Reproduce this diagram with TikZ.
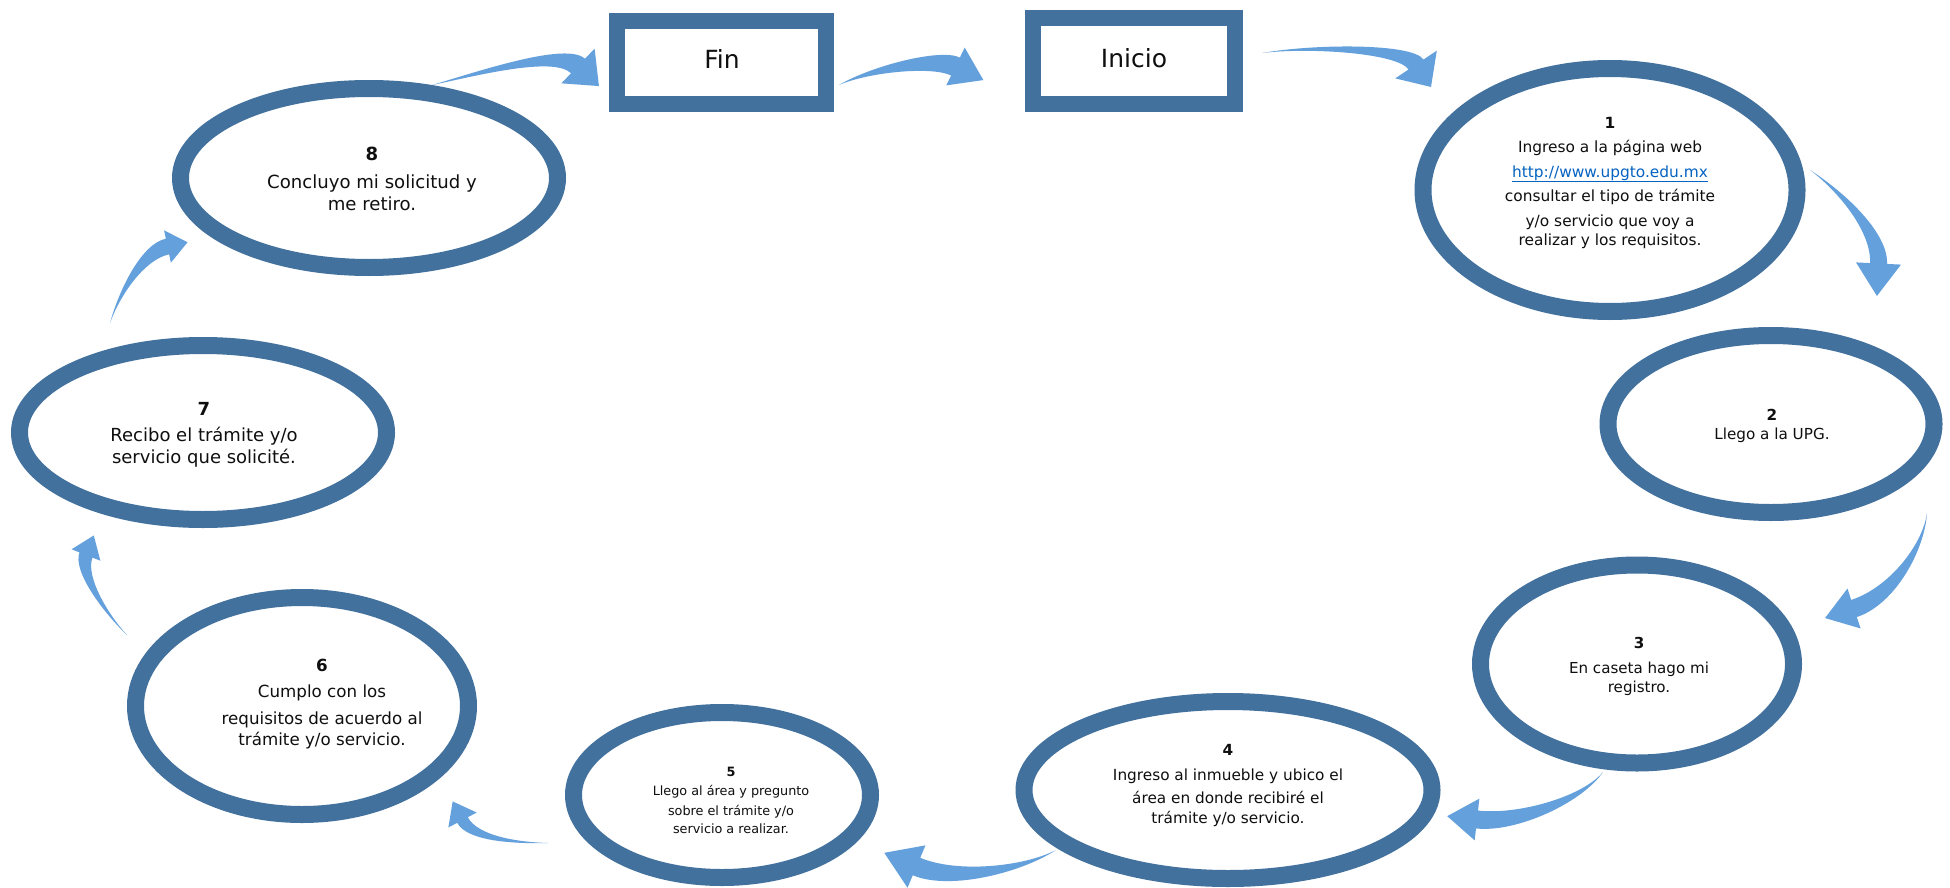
\documentclass[tikz,border=0pt]{standalone}
\usepackage{fontspec}
\setmainfont{DejaVu Sans}
\usetikzlibrary{shapes.geometric,calc}
\definecolor{ringblue}{RGB}{66,113,158}
\definecolor{arrowblue}{RGB}{100,160,220}
\definecolor{linkblue}{RGB}{5,99,193}
\definecolor{txtc}{RGB}{15,15,15}
\tikzset{
  ring/.style={draw=ringblue, line width=17pt, ellipse, inner sep=0pt, fill=white},
  framebox/.style={draw=ringblue, line width=16pt, rectangle, inner sep=0pt, fill=white},
  steptext/.style={align=center, anchor=base, text=txtc, inner sep=0pt},
  arrowfill/.style={fill=arrowblue},
}
% #1 tail, #2 ctrl1, #3 ctrl2, #4 head base centre, #5 body half width, #6 head half width, #7 head length
\newcommand\bentarrow[7]{%
  \fill[arrowfill] let \p1=(#2), \p2=(#3), \p3=(#4), \n1={atan2(\y3-\y2,\x3-\x2)} in
    (#1) .. controls ($(\p1)+({\n1+90}:{0.35*#5pt})$) and ($(\p2)+({\n1+90}:{#5pt})$) .. ($(\p3)+({\n1+90}:{#5pt})$)
    -- ($(\p3)+({\n1+90}:{#6pt})$) -- ($(\p3)+(\n1:{#7pt})$) -- ($(\p3)+({\n1-90}:{#6pt})$)
    -- ($(\p3)+({\n1-90}:{#5pt})$)
    .. controls ($(\p2)+({\n1-90}:{#5pt})$) and ($(\p1)+({\n1-90}:{0.35*#5pt})$) .. (#1) -- cycle;
}
\begin{document}
\begin{tikzpicture}[x=1pt,y=-1pt]
\fill[white] (0,0) rectangle (1950,888);
\useasboundingbox (0,0) rectangle (1950,888);

% boxes
\node[framebox, minimum width=209pt, minimum height=83pt] (fin) at (721.5,62.5) {};
\node[framebox, minimum width=202pt, minimum height=86.5pt] (inicio) at (1134,61) {};
\node[steptext, font=\fontsize{25}{30}\selectfont] (fintxt) at (722,69) {Fin};
\node[steptext, font=\fontsize{25}{30}\selectfont] (iniciotxt) at (1134,68) {Inicio};

% ellipses
\node[ring, minimum width=374pt, minimum height=243pt] (e1) at (1610,190) {};
\node[ring, minimum width=326pt, minimum height=177pt] (e2) at (1771,424) {};
\node[ring, minimum width=313pt, minimum height=198pt] (e3) at (1637,664) {};
\node[ring, minimum width=408pt, minimum height=177pt] (e4) at (1228,790) {};
\node[ring, minimum width=297pt, minimum height=165pt] (e5) at (722,795) {};
\node[ring, minimum width=333pt, minimum height=217pt] (e6) at (302,706) {};
\node[ring, minimum width=367pt, minimum height=174pt] (e7) at (203,432.5) {};
\node[ring, minimum width=377pt, minimum height=179pt] (e8) at (369,178) {};

% texts (anchor base = baseline of last line)
\node[steptext, font=\fontsize{15.4}{24.5}\selectfont] (t1) at (1610,245)
  {\textbf{1}\\Ingreso a la página web\\\textcolor{linkblue}{\underline{http://www.upgto.edu.mx}}\\consultar el tipo de trámite\\y/o servicio que voy a\\[-5.5pt]realizar y los requisitos.};
\node[steptext, font=\fontsize{15.2}{19}\selectfont] (t2) at (1772,439)
  {\textbf{2}\\Llego a la UPG.};
\node[steptext, font=\fontsize{15.1}{19}\selectfont] (t3) at (1639,692)
  {\textbf{3}\\[6pt]En caseta hago mi\\registro.};
\node[steptext, font=\fontsize{15.3}{22}\selectfont] (t4) at (1228,823)
  {\textbf{4}\\[3pt]Ingreso al inmueble y ubico el\\[1pt]área en donde recibiré el\\[-2pt]trámite y/o servicio.};
\node[steptext, font=\fontsize{12.8}{19.5}\selectfont] (t5) at (731,833)
  {\textbf{5}\\Llego al área y pregunto\\sobre el trámite y/o\\[-1.5pt]servicio a realizar.};
\node[steptext, font=\fontsize{16.7}{21}\selectfont] (t6) at (322,745)
  {\textbf{6}\\[5pt]Cumplo con los\\[6pt]requisitos de acuerdo al\\trámite y/o servicio.};
\node[steptext, font=\fontsize{18}{22}\selectfont] (t7) at (204,463)
  {\textbf{7}\\[4pt]Recibo el trámite y/o\\servicio que solicité.};
\node[steptext, font=\fontsize{18.1}{22}\selectfont] (t8) at (372,210)
  {\textbf{8}\\[6pt]Concluyo mi solicitud y\\me retiro.};

% arrow coordinates
\coordinate (a1t) at (839,85);   \coordinate (a1c) at (870,69);   \coordinate (a1d) at (936,57);   \coordinate (a1b) at (955.5,66.5);
\coordinate (a2t) at (1262,53);  \coordinate (a2c) at (1312,45.5); \coordinate (a2d) at (1405,48);  \coordinate (a2b) at (1416,64.5);
\coordinate (a3t) at (1810,170); \coordinate (a3c) at (1843,193); \coordinate (a3d) at (1880,233); \coordinate (a3b) at (1878.5,263.5);
\coordinate (a4t) at (1927,513); \coordinate (a4c) at (1923.5,548); \coordinate (a4d) at (1892,596); \coordinate (a4b) at (1854,608.5);
\coordinate (a5t) at (1603,772); \coordinate (a5c) at (1582,800); \coordinate (a5d) at (1517,824); \coordinate (a5b) at (1477,819.5);
\coordinate (a6t) at (1056,850); \coordinate (a6c) at (1022,870); \coordinate (a6d) at (953,882);  \coordinate (a6b) at (916.5,866.5);
\coordinate (a7t) at (548,843);  \coordinate (a7c) at (513,843);  \coordinate (a7d) at (472,838);  \coordinate (a7b) at (462.5,820);
\coordinate (a8t) at (127,635);  \coordinate (a8c) at (106,614);  \coordinate (a8d) at (78.6,573.6); \coordinate (a8b) at (86,555);
\coordinate (a9t) at (110,323);  \coordinate (a9c) at (120.5,290); \coordinate (a9d) at (143.8,251.5); \coordinate (a9b) at (167.5,246.5);
\coordinate (a0t) at (432,85);   \coordinate (a0c) at (476,74);   \coordinate (a0d) at (559.75,48.5); \coordinate (a0b) at (578,66);

\bentarrow{a1t}{a1c}{a1d}{a1b}{10}{21}{31}
\bentarrow{a2t}{a2c}{a2d}{a2b}{9}{25}{27}
\bentarrow{a3t}{a3c}{a3d}{a3b}{8.5}{22.5}{32.5}
\bentarrow{a4t}{a4c}{a4d}{a4b}{9}{21}{30.5}
\bentarrow{a5t}{a5c}{a5d}{a5b}{9}{21}{30}
\bentarrow{a6t}{a6c}{a6d}{a6b}{9.5}{23}{35}
\bentarrow{a7t}{a7c}{a7d}{a7b}{6}{16}{21}
\bentarrow{a8t}{a8c}{a8d}{a8b}{7}{15.5}{21}
\bentarrow{a9t}{a9c}{a9d}{a9b}{8}{16.5}{20.5}
\bentarrow{a0t}{a0c}{a0d}{a0b}{10}{24}{29}
\end{tikzpicture}
\end{document}
